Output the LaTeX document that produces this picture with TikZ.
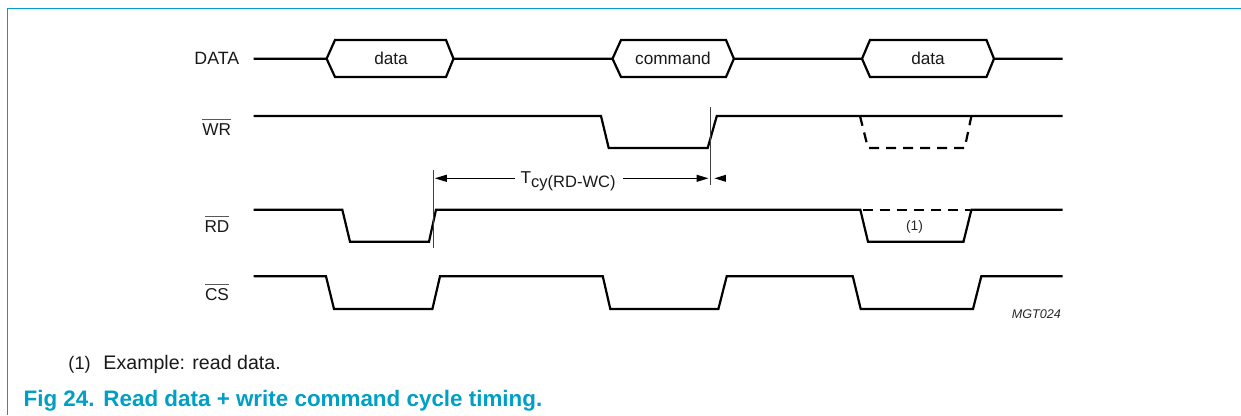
\documentclass[tikz,border=0pt]{standalone}
\usepackage{fontspec}
\setmainfont{Liberation Sans}
\usetikzlibrary{arrows.meta}
\definecolor{nxp}{HTML}{009FC6}
\newcommand{\ovl}[1]{\leavevmode\vbox{{\color{black!65}\hrule height 0.8bp}\kern 3.4bp\hbox{#1}}}
\tikzset{
  x=1bp,y=-1bp,
  sig/.style={line width=2.2bp,line join=miter,miter limit=10},
  dsh/.style={sig,dash pattern=on 10bp off 7bp},
  hair/.style={line width=0.7bp,black!75},
  dim/.style={line width=1bp,-{Triangle[length=12bp,width=7bp]}},
  lab/.style={inner sep=0pt,text=black!90,font=\fontsize{17.2bp}{20bp}\selectfont},
  smalllab/.style={inner sep=0pt,text=black!85,font=\fontsize{13.8bp}{16bp}\selectfont},
  notelab/.style={inner sep=0pt,text=black!90,font=\fontsize{19.6bp}{22bp}\selectfont},
  caplab/.style={inner sep=0pt,anchor=base west,text=nxp,font=\fontsize{22.4bp}{24bp}\selectfont\bfseries},
}
\begin{document}
\begin{tikzpicture}
\useasboundingbox (0,0) rectangle (1241,415);
% frame
\draw[nxp,line width=1.3bp] (1241,8.4) -- (7.4,8.4) -- (7.4,415);
% DATA line
\draw[sig] (253.5,58.7) -- (326.6,58.7) -- (335,40) -- (446,40) -- (453.5,58.7)
  -- (612.5,58.7) -- (621,40) -- (726,40) -- (733.9,58.7)
  -- (862,58.7) -- (870,40) -- (986.5,40) -- (994,58.7) -- (1062.5,58.7);
\draw[sig] (326.6,58.7) -- (335,77) -- (446,77) -- (453.5,58.7);
\draw[sig] (612.5,58.7) -- (621,77) -- (726,77) -- (733.9,58.7);
\draw[sig] (862,58.7) -- (870,77) -- (986.5,77) -- (994,58.7);
% WR
\draw[sig] (253.5,116) -- (601,116) -- (608.7,148) -- (707.7,148) -- (716.8,116) -- (1062.5,116);
\draw[dsh] (860,116) -- (868,148) -- (964.7,148) -- (971.4,116);
% RD
\draw[sig] (253.5,209.7) -- (342.3,209.7) -- (350,241.7) -- (429,241.7) -- (436,209.7) -- (860.3,209.7)
  -- (868,241.7) -- (963.5,241.7) -- (971.4,209.7) -- (1062.5,209.7);
\draw[dsh] (862.5,209.7) -- (970,209.7);
% CS
\draw[sig] (253.5,276.3) -- (326,276.3) -- (334,309) -- (432.4,309) -- (440,276.3) -- (602.8,276.3)
  -- (610.3,309) -- (718.4,309) -- (726.7,276.3) -- (852.8,276.3) -- (860.7,309) -- (973,309)
  -- (981.3,276.3) -- (1062.5,276.3);
% timing marks
\coordinate (vlt) at (433,170);
\coordinate (vlb) at (433,247.7);
\coordinate (vrt) at (710.8,107);
\coordinate (vrb) at (710.8,185);
\draw[hair] (vlt) -- (vlb);
\draw[hair] (vrt) -- (vrb);
\node[lab,anchor=base west] (tcy) at (520.5,183) {T\raisebox{-4bp}{\fontsize{16.5bp}{18bp}\selectfont cy(RD-WC)}};
\coordinate (al) at (434.8,178.3);
\coordinate (ar) at (708.5,178.3);
\coordinate (ao) at (714.5,178.3);
\coordinate (aot) at (725.8,178.3);
\coordinate (all) at (515,178.3);
\coordinate (arr) at (623,178.3);
\draw[dim] (all) -- (al);
\draw[dim] (arr) -- (ar);
\fill (aot) ++(0,-3.5) -- (ao) -- ++(11.3,3.5) -- cycle;
% labels
\node[lab,anchor=base east,font=\fontsize{17.8bp}{20bp}\selectfont] (ldata) at (239.5,64.3) {DATA};
\node[lab,anchor=base] (lwr) at (216.8,135) {\ovl{WR}};
\node[lab,anchor=base] (lrd) at (217,232.3) {\ovl{RD}};
\node[lab,anchor=base] (lcs) at (217,300.3) {\ovl{CS}};
\node[lab,anchor=base] (h1) at (391,64.3) {data};
\node[lab,anchor=base] (h2) at (673,64.3) {command};
\node[lab,anchor=base] (h3) at (928,64.3) {data};
\node[smalllab,anchor=base] (one) at (914.5,230) {(1)};
\node[smalllab,anchor=base east,font=\fontsize{12.6bp}{14bp}\selectfont\itshape] (mgt) at (1061,318.3) {MGT024};
\node[notelab,anchor=base west,font=\fontsize{18.2bp}{22bp}\selectfont] (note1) at (68.3,369) {(1)};
\node[notelab,anchor=base west] (note2) at (103.3,369) {Example: read data.};
\node[caplab] (cap1) at (23.4,406.7) {Fig 24.};
\node[caplab] (cap2) at (103.3,406.7) {Read data + write command cycle timing.};
\end{tikzpicture}
\end{document}
